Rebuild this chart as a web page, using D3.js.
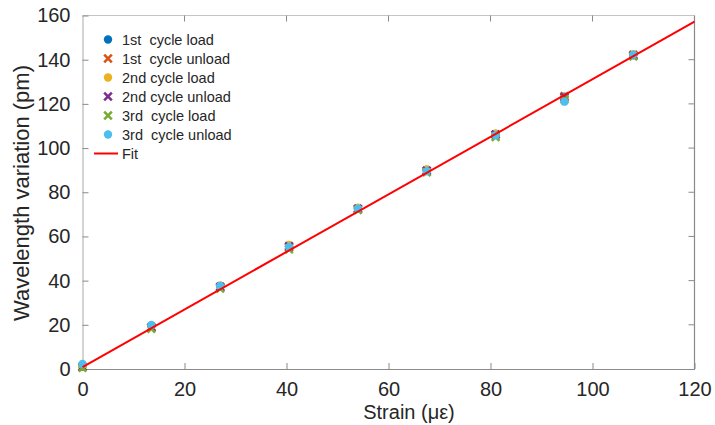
<!DOCTYPE html>
<html lang="en">
<head>
<meta charset="UTF-8">
<title>Strain vs wavelength</title>
<script src="https://cdn.jsdelivr.net/npm/d3@7"></script>
<style>
    body { margin: 0; background: #fff; }
    text { font-family: "Liberation Sans", Arial, sans-serif; fill: #262626; }
    .legend text { white-space: pre; }
</style>
</head>
<body>
<script>
const strain = [0, 13.5, 27, 40.5, 54, 67.5, 81, 94.5, 108];
const load1   = [1.0, 19.5, 37.5, 55.5, 72.8, 90.0, 106.3, 123.2, 142.0];
const unload1 = [0.8, 19.0, 37.0, 55.0, 72.2, 89.6, 106.0, 123.5, 142.2];
const load2   = [1.2, 19.3, 37.8, 56.2, 73.0, 90.4, 106.6, 122.8, 142.5];
const unload2 = [1.0, 18.8, 37.2, 55.6, 72.6, 89.8, 106.2, 123.0, 141.8];
const load3   = [0.5, 18.2, 36.4, 54.2, 72.0, 89.0, 105.0, 122.0, 141.5];
const unload3 = [2.3, 19.9, 37.6, 55.2, 72.5, 89.5, 105.8, 121.0, 142.3];
const fitX = [0, 120];
const fitY = [0.9, 157.2];
const xTicks = [0, 20, 40, 60, 80, 100, 120];
const yTicks = [0, 20, 40, 60, 80, 100, 120, 140, 160];

const series = [
    {name: "1st  cycle load",   values: load1,   color: "#0072BD", shape: "circle"},
    {name: "1st  cycle unload", values: unload1, color: "#D95319", shape: "cross"},
    {name: "2nd cycle load",    values: load2,   color: "#EDB120", shape: "circle"},
    {name: "2nd cycle unload",  values: unload2, color: "#7E2F8E", shape: "cross"},
    {name: "3rd  cycle load",   values: load3,   color: "#77AC30", shape: "cross"},
    {name: "3rd  cycle unload", values: unload3, color: "#4DBEEE", shape: "circle"}
];

const w = 715, h = 425;
const m = {left: 82.5, right: 694.5, top: 15.5, bottom: 369};

const svg = d3.select("body").append("svg")
    .attr("width", w).attr("height", h);

const x = d3.scaleLinear().domain([0, 120]).range([m.left, m.right]);
const y = d3.scaleLinear().domain([0, 160]).range([m.bottom, m.top]);

// box (top and right)
svg.append("line").attr("x1", m.left).attr("x2", m.right)
    .attr("y1", m.top).attr("y2", m.top)
    .attr("stroke", "#c4c4c4").attr("stroke-width", 1.2);
svg.append("line").attr("x1", m.right).attr("x2", m.right)
    .attr("y1", m.top).attr("y2", m.bottom)
    .attr("stroke", "#8a8a8a").attr("stroke-width", 1.2);

// inward ticks on top / right
svg.selectAll(".ttop").data(xTicks.slice(1, -1)).enter().append("line")
    .attr("x1", d => x(d)).attr("x2", d => x(d))
    .attr("y1", m.top).attr("y2", m.top + 6)
    .attr("stroke", "#8a8a8a");
svg.selectAll(".tright").data(yTicks.slice(1, -1)).enter().append("line")
    .attr("x1", m.right - 6).attr("x2", m.right)
    .attr("y1", d => y(d)).attr("y2", d => y(d))
    .attr("stroke", "#8a8a8a");

const xAxis = d3.axisBottom(x).tickValues(xTicks).tickSizeInner(-6).tickSizeOuter(0).tickPadding(13);
const yAxis = d3.axisLeft(y).tickValues(yTicks).tickSizeInner(-6).tickSizeOuter(0).tickPadding(12);

const gx = svg.append("g")
    .attr("transform", "translate(0," + m.bottom + ")")
    .call(xAxis);
gx.select(".domain").attr("stroke", "#8a8a8a").attr("stroke-width", 1.2);
gx.selectAll(".tick line").attr("stroke", "#8a8a8a");
gx.selectAll("text").attr("font-size", 20).attr("fill", "#262626")
    .attr("font-family", "Liberation Sans, Arial, sans-serif");

const gy = svg.append("g")
    .attr("transform", "translate(" + m.left + ",0)")
    .call(yAxis);
gy.select(".domain").attr("stroke", "#b8b8b8").attr("stroke-width", 1.2);
gy.selectAll(".tick line").attr("stroke", "#8a8a8a");
gy.selectAll("text").attr("font-size", 20).attr("fill", "#262626")
    .attr("font-family", "Liberation Sans, Arial, sans-serif");

// axis labels
svg.append("text")
    .attr("x", 409).attr("y", 419)
    .attr("text-anchor", "middle")
    .attr("font-size", 20)
    .text("Strain (\u03bc\u03b5)");

svg.append("text")
    .attr("transform", "translate(29," + 193 + ") rotate(-90)")
    .attr("text-anchor", "middle")
    .attr("font-size", 22)
    .text("Wavelength variation (pm)");

// markers
function drawMarker(g, shape, color, cx, cy) {
    if (shape === "circle") {
        g.append("circle").attr("cx", cx).attr("cy", cy).attr("r", 4.2)
            .attr("fill", color);
    } else {
        const s = 3.8;
        g.append("path")
            .attr("d", `M${cx - s},${cy - s}L${cx + s},${cy + s}M${cx - s},${cy + s}L${cx + s},${cy - s}`)
            .attr("stroke", color).attr("stroke-width", 2.6).attr("fill", "none");
    }
}

const plot = svg.append("g");
series.forEach(s => {
    const g = plot.append("g");
    s.values.forEach((v, i) => drawMarker(g, s.shape, s.color, x(strain[i]), y(v)));
});

// fit line
const line = d3.line().x(d => x(d[0])).y(d => y(d[1]));
svg.append("path")
    .datum(fitX.map((d, i) => [d, fitY[i]]))
    .attr("d", line)
    .attr("fill", "none")
    .attr("stroke", "#ff0000")
    .attr("stroke-width", 2);

// legend
const leg = svg.append("g").attr("class", "legend");
series.forEach((s, i) => {
    const yy = 39.5 + i * 19;
    drawMarker(leg, s.shape, s.color, 108, yy);
    leg.append("text").attr("x", 122).attr("y", yy + 5)
        .attr("font-size", 14.5).attr("fill", "#000").text(s.name);
});
const fy = 39.5 + 6 * 19;
leg.append("line").attr("x1", 94).attr("x2", 118)
    .attr("y1", fy).attr("y2", fy)
    .attr("stroke", "#ff0000").attr("stroke-width", 2);
leg.append("text").attr("x", 122).attr("y", fy + 5)
    .attr("font-size", 14.5).attr("fill", "#000").text("Fit");
</script>
</body>
</html>
